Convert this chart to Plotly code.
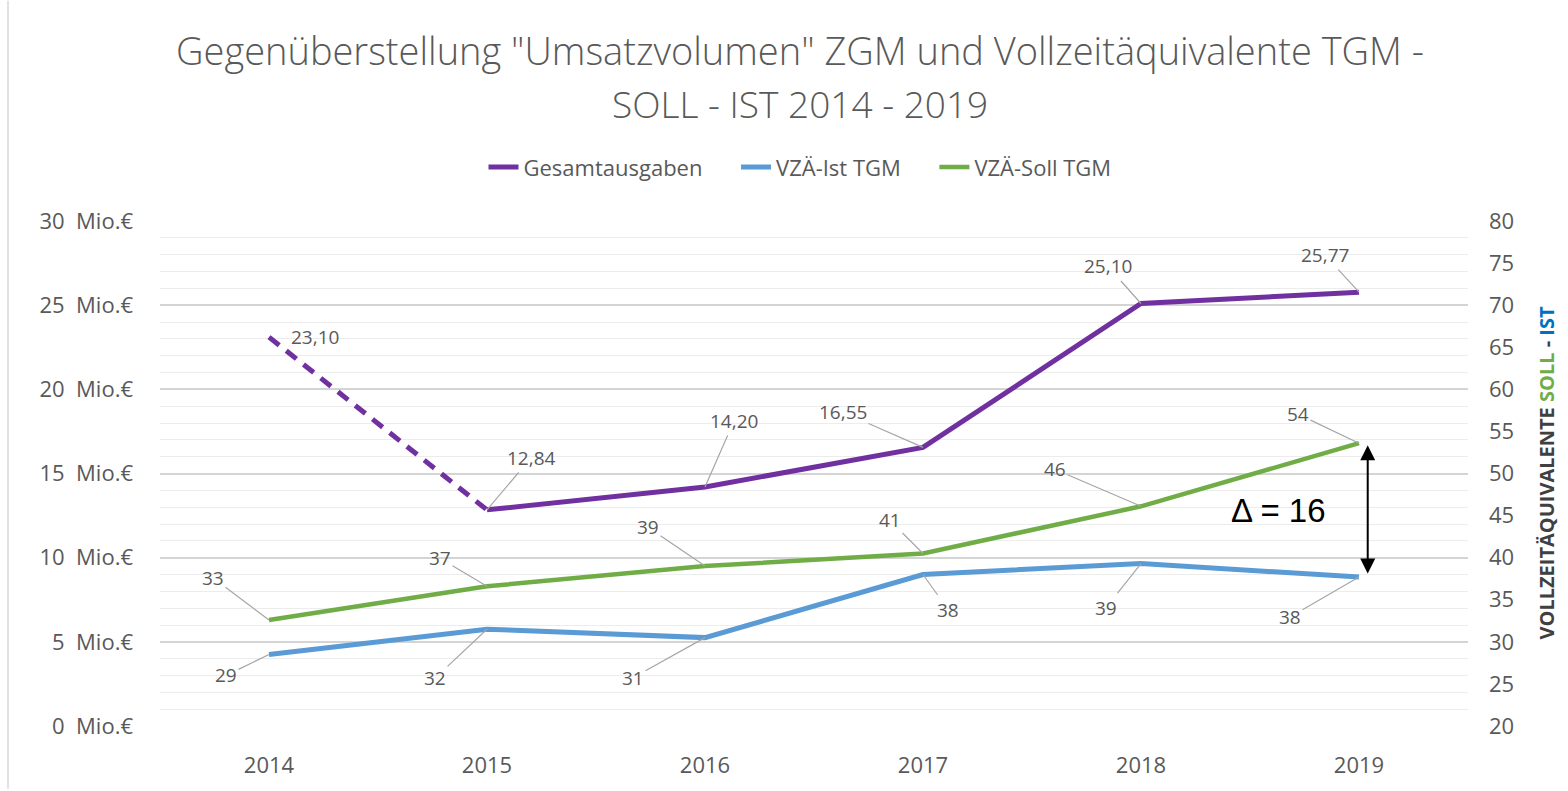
import plotly.graph_objects as go

# ---- data ----
years = [2014, 2015, 2016, 2017, 2018, 2019]
gesamtausgaben = [23.10, 12.84, 14.20, 16.55, 25.10, 25.77]      # Mio. €
vzae_ist = [28.5, 31.5, 30.5, 38.0, 39.3, 37.7]                  # VZÄ (right axis)
vzae_soll = [32.6, 36.6, 39.0, 40.5, 46.1, 53.6]                 # VZÄ (right axis)
ist_labels = ["29", "32", "31", "38", "39", "38"]
soll_labels = ["33", "37", "39", "41", "46", "54"]
left_ticks = [0, 5, 10, 15, 20, 25, 30]
right_ticks = [20, 25, 30, 35, 40, 45, 50, 55, 60, 65, 70, 75, 80]
series_names = ["Gesamtausgaben", "VZÄ-Ist TGM", "VZÄ-Soll TGM"]

# ---- styles ----
PURPLE = "#7030a0"
BLUE = "#5b9bd5"
GREEN = "#70ad47"
GREY_TXT = "#595959"
LEADER = "#a6a6a6"
FONT = "Open Sans"
PAD = "\u00a0" * 5   # extra spacing between legend entries

# label offsets (px) relative to the points
purple_off = [(46, 0), (44, -52), (29, -66), (-80, -35), (-33, -37), (-34, -37)]
soll_off = [(-56, -42), (-47, -28), (-57, -39), (-33, -33), (-86, -37), (-61, -29)]
ist_off = [(-43, 21), (-52, 49), (-72, 40), (25, 35), (-35, 44), (-69, 40)]

fig = go.Figure()

# dashed 2014-2015 segment of Gesamtausgaben
fig.add_trace(go.Scatter(
    x=years[:2], y=gesamtausgaben[:2], mode="lines",
    line=dict(color=PURPLE, width=5, dash="13px,9px"),
    showlegend=False, hoverinfo="skip", yaxis="y"))
fig.add_trace(go.Scatter(
    x=years[1:], y=gesamtausgaben[1:], mode="lines", name=series_names[0] + PAD,
    line=dict(color=PURPLE, width=5), yaxis="y"))
fig.add_trace(go.Scatter(
    x=years, y=vzae_ist, mode="lines", name=series_names[1] + PAD,
    line=dict(color=BLUE, width=5), yaxis="y2"))
fig.add_trace(go.Scatter(
    x=years, y=vzae_soll, mode="lines", name=series_names[2],
    line=dict(color=GREEN, width=4.5), yaxis="y2"))

annotations = []
lab_font = dict(family=FONT, size=19, color=GREY_TXT)

for i, (yr, v) in enumerate(zip(years, gesamtausgaben)):
    txt = f"{v:.2f}".replace(".", ",")
    ax, ay = purple_off[i]
    if i == 0:
        annotations.append(dict(x=yr, y=v, xref="x", yref="y", text=txt,
                                showarrow=False, xshift=ax, yshift=-ay,
                                font=lab_font))
    else:
        annotations.append(dict(x=yr, y=v, xref="x", yref="y", text=txt,
                                showarrow=True, ax=ax, ay=ay, arrowhead=0,
                                arrowwidth=1.2, arrowcolor=LEADER,
                                font=lab_font))

for i, (yr, v) in enumerate(zip(years, vzae_soll)):
    ax, ay = soll_off[i]
    annotations.append(dict(x=yr, y=v, xref="x", yref="y2", text=soll_labels[i],
                            showarrow=True, ax=ax, ay=ay, arrowhead=0,
                            arrowwidth=1.2, arrowcolor=LEADER, font=lab_font))

for i, (yr, v) in enumerate(zip(years, vzae_ist)):
    ax, ay = ist_off[i]
    annotations.append(dict(x=yr, y=v, xref="x", yref="y2", text=ist_labels[i],
                            showarrow=True, ax=ax, ay=ay, arrowhead=0,
                            arrowwidth=1.2, arrowcolor=LEADER, font=lab_font))

# Delta arrow between Soll and Ist in 2019
delta = round(vzae_soll[-1]) - round(vzae_ist[-1])
annotations.append(dict(
    x=years[-1] + 0.04, y=vzae_soll[-1], xref="x", yref="y2",
    ax=years[-1] + 0.04, ay=vzae_ist[-1], axref="x", ayref="y2",
    text="", showarrow=True, arrowhead=2, arrowside="end+start",
    arrowwidth=2, arrowcolor="#000000", arrowsize=1.5,
    standoff=2, startstandoff=2))
annotations.append(dict(
    x=years[-1], y=(vzae_soll[-1] + vzae_ist[-1]) / 2, xref="x", yref="y2",
    text=f"Δ = {delta}", showarrow=False, xshift=-81,
    font=dict(family="Liberation Sans", size=33, color="#000000")))

# second title line
annotations.append(dict(
    x=(800 - 160) / 1308, y=1 + (221 - 103) / 507, xref="paper", yref="paper",
    text="SOLL - IST 2014 - 2019", showarrow=False,
    font=dict(family=FONT, size=37, color=GREY_TXT, weight=300),
    xanchor="center", yanchor="middle"))

# right axis title with coloured parts
annotations.append(dict(
    x=1 + (1546 - 1468) / 1308, y=0.5, xref="paper", yref="paper",
    text=("<b><span style='color:#404040'>VOLLZEITÄQUIVALENTE </span>"
          f"<span style='color:{GREEN}'>SOLL</span>"
          "<span style='color:#404040'> - </span>"
          "<span style='color:#0070c0'>IST</span></b>"),
    textangle=-90, showarrow=False, xanchor="center", yanchor="middle",
    font=dict(family=FONT, size=20, color="#404040")))

fig.update_layout(
    width=1568, height=791,
    paper_bgcolor="white", plot_bgcolor="white",
    margin=dict(l=160, r=100, t=221, b=63),
    title=dict(text='Gegenüberstellung "Umsatzvolumen" ZGM und Vollzeitäquivalente TGM -',
               x=(800 - 160) / 1308, xref="paper", xanchor="center",
               y=1 - 52 / 791, yref="container", yanchor="middle",
               font=dict(family=FONT, size=38, color=GREY_TXT, weight=300)),
    legend=dict(orientation="h", x=(800 - 160) / 1308, xanchor="center",
                y=1 + 54 / 507, yanchor="middle",
                font=dict(family=FONT, size=22, color=GREY_TXT),
                itemwidth=30, tracegroupgap=0, bgcolor="rgba(0,0,0,0)"),
    xaxis=dict(range=[years[0] - 0.5, years[-1] + 0.5], tickmode="array",
               tickvals=years, ticktext=[str(y) for y in years],
               showgrid=False, zeroline=False, showline=False,
               ticks="", ticklabelstandoff=24,
               tickfont=dict(family=FONT, size=22, color=GREY_TXT)),
    yaxis=dict(range=[0, 30], tickmode="array", tickvals=left_ticks,
               ticktext=[f"{t}\u00a0\u00a0Mio.€" for t in left_ticks],
               showgrid=True, gridcolor="#d4d4d4", gridwidth=1.5,
               zeroline=False, showline=False, ticks="",
               ticklabelstandoff=26,
               minor=dict(dtick=1, showgrid=True, gridcolor="#ececec", gridwidth=1.3),
               tickfont=dict(family=FONT, size=22, color=GREY_TXT)),
    yaxis2=dict(range=[20, 80], tickmode="array", tickvals=right_ticks,
                overlaying="y", side="right", showgrid=False, zeroline=False,
                showline=False, ticks="", ticklabelstandoff=20,
                tickfont=dict(family=FONT, size=22, color=GREY_TXT)),
    annotations=annotations,
    shapes=[dict(type="line", xref="paper", yref="paper",
                 x0=-152 / 1308, x1=-152 / 1308, y0=-63 / 507, y1=1 + 221 / 507,
                 line=dict(color="#d9d9d9", width=1.5))],
    showlegend=True,
)

fig.write_html("out.html")
